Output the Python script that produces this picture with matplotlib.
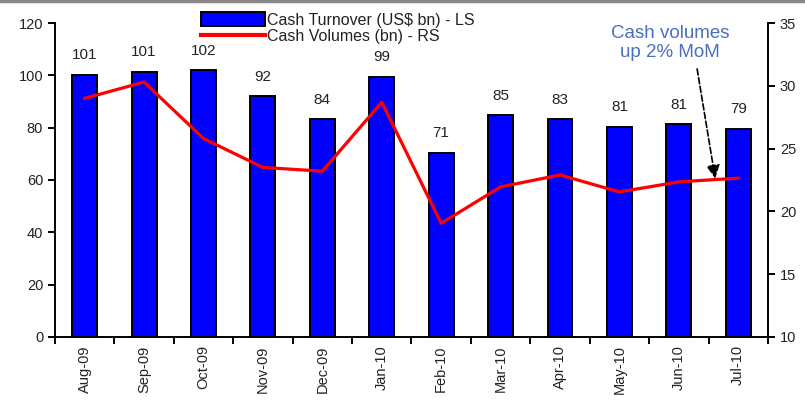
import matplotlib
matplotlib.use("Agg")
import matplotlib.pyplot as plt
from matplotlib.lines import Line2D
import numpy as np

plt.rcParams['font.family'] = ['Liberation Sans', 'DejaVu Sans']

months = ["Aug-09", "Sep-09", "Oct-09", "Nov-09", "Dec-09", "Jan-10",
          "Feb-10", "Mar-10", "Apr-10", "May-10", "Jun-10", "Jul-10"]
turnover = [100.2, 101.3, 102.0, 92.1, 83.3, 99.4, 70.4, 84.8, 83.2, 80.4, 81.3, 79.5]
turnover_labels = ["101", "101", "102", "92", "84", "99", "71", "85", "83", "81", "81", "79"]
volumes = [29.0, 30.3, 25.8, 23.5, 23.2, 28.7, 19.05, 21.95, 22.9, 21.55, 22.35, 22.65]

fig = plt.figure(figsize=(8.05, 4.04), dpi=100)
ax = fig.add_axes([0.0683, 0.166, 0.8857, 0.777])
ax2 = ax.twinx()

x = np.arange(len(months))
bars = ax.bar(x, turnover, width=0.42, color="#0000FF", edgecolor="black",
              linewidth=1.4, zorder=2, label="Cash Turnover (US$ bn) - LS")
for xi, v, lab in zip(x, turnover, turnover_labels):
    ax.annotate(lab, (xi, v), xytext=(0, 9), textcoords="offset points",
                ha="center", va="bottom", fontsize=11, color="#222222")

ax2.plot(x, volumes, color="#FF0000", linewidth=2.3, zorder=3,
         label="Cash Volumes (bn) - RS")

ax.set_xlim(-0.5, len(months) - 0.5)
ax.set_ylim(0, 120)
ax.set_yticks(range(0, 121, 20))
ax2.set_ylim(10, 35)
ax2.set_yticks(range(10, 36, 5))

ax.set_xticks(x)
ax.set_xticklabels(months, rotation=90, fontsize=10.5, color="#222222")
ax.set_xticks(np.arange(-0.5, len(months)), minor=True)
ax.tick_params(axis="x", which="major", length=0, pad=6)
ax.tick_params(axis="x", which="minor", length=5, width=1.4, direction="out")
ax.tick_params(axis="y", length=5, width=1.4, labelsize=10.5, labelcolor="#222222")
ax2.tick_params(axis="y", length=5, width=1.4, labelsize=10.5, labelcolor="#222222")

for a in (ax, ax2):
    a.spines["top"].set_visible(False)
    for s in ("left", "right", "bottom"):
        a.spines[s].set_linewidth(1.4)
ax.spines["right"].set_visible(False)
ax2.spines["left"].set_visible(False)
ax2.spines["bottom"].set_visible(False)

handles = [bars, Line2D([], [], color="#FF0000", linewidth=3)]
labels = ["Cash Turnover (US$ bn) - LS", "Cash Volumes (bn) - RS"]
fig.legend(handles, labels, loc="upper left", bbox_to_anchor=(0.238, 0.993),
           frameon=False, fontsize=11.5, handlelength=4.0, handleheight=0.9,
           handletextpad=0.15, labelspacing=0.1, borderpad=0.1,
           labelcolor="#222222")

ax.text(9.85, 112.5, "Cash volumes\nup 2% MoM", ha="center", va="center",
        fontsize=13.5, color="#4A6FC0", linespacing=1.15)
ax.annotate("", xy=(10.62, 59.5), xytext=(10.3, 103.5),
            arrowprops=dict(arrowstyle="-|>", color="black", linestyle="--",
                            linewidth=1.2, mutation_scale=20))

fig.add_artist(Line2D([0, 1], [0.997, 0.997], transform=fig.transFigure,
                      color="#888888", linewidth=2.5))

fig.savefig("out.png", dpi=100)
